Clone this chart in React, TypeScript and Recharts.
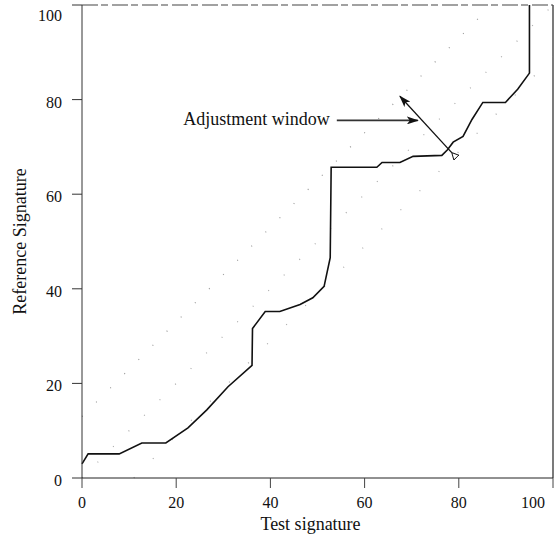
import { LineChart, Line, XAxis, YAxis, ReferenceLine, Label } from 'recharts';

// warping path
const testSignature = [0, 1.3, 7.9, 12.7, 17.8, 22.5, 26.5, 31, 36.1, 36.2, 38.9, 42, 46.3, 49, 51.4, 52.7, 52.9, 62.6, 63.7, 67.5, 70.3, 76.4, 77.6, 78.8, 80.9, 82.8, 85.1, 89.9, 92.5, 95, 95];
const referenceSignature = [3, 5.1, 5.1, 7.4, 7.4, 10.6, 14.4, 19.3, 23.8, 31.6, 35.2, 35.2, 36.7, 38.1, 40.5, 46.6, 65.7, 65.7, 66.7, 66.7, 68, 68.2, 69.4, 71, 72.2, 75.8, 79.4, 79.4, 82.2, 85.6, 100];

const axisTicks = [0, 20, 40, 60, 80, 100];

// dotted window bounds (offset from the diagonal)
const upperOffset = 13;
const lowerOffset = -11;

// annotation arrows
const windowArrow = [{ x: 67.5, y: 80.7 }, { x: 78.5, y: 68.8 }];
const labelArrow = [{ x: 54.1, y: 75.6 }, { x: 71.3, y: 75.6 }];
const annotation = 'Adjustment window';

const data = testSignature.map((x, i) => ({ x, y: referenceSignature[i] }));

const FONT = '"Liberation Serif", "Times New Roman", serif';

const diag = (off: number) => {
  const x0 = Math.max(0, -off);
  const x1 = Math.min(100, 100 - off);
  return [{ x: x0, y: x0 + off }, { x: x1, y: x1 + off }];
};

const XTick = ({ x, y, payload }: any) => (
  <text x={x} y={y} dy={12} textAnchor={payload.value === 100 ? 'end' : 'middle'} fontFamily={FONT} fontSize={16} fill="#111">
    {payload.value}
  </text>
);

const YTick = ({ x, y, payload }: any) => (
  <text x={x} y={y} dy={payload.value === 100 ? 12 : 8} textAnchor="end" fontFamily={FONT} fontSize={16} fill="#111">
    {payload.value}
  </text>
);

export default function App() {
  return (
    <div style={{ position: 'absolute', left: 0, top: 0, background: '#fff' }}>
      <LineChart width={557} height={535} data={data} margin={{ top: 5, right: 4, left: 0, bottom: 0 }}>
        <defs>
          <marker id="headFill" viewBox="0 0 12 8" refX="11" refY="4" markerWidth="12" markerHeight="8" markerUnits="userSpaceOnUse" orient="auto">
            <path d="M0,0 L12,4 L0,8 L3,4 z" fill="#111" />
          </marker>
          <marker id="headOpen" viewBox="0 0 8 8" refX="7" refY="4" markerWidth="8" markerHeight="8" markerUnits="userSpaceOnUse" orient="auto">
            <path d="M0,0.5 L7,4 L0,7.5 z" fill="#fff" stroke="#111" strokeWidth="1" />
          </marker>
        </defs>
        <XAxis
          dataKey="x"
          type="number"
          domain={[0, 100]}
          ticks={axisTicks}
          height={57}
          tickSize={10}
          tickMargin={8}
          tick={<XTick />}
          axisLine={{ stroke: '#222' }}
          tickLine={{ stroke: '#444' }}
        >
          <Label value="Test signature" position="insideBottom" offset={5} dx={-7} style={{ fontFamily: FONT, fontSize: 18, fill: '#111' }} />
        </XAxis>
        <YAxis
          type="number"
          domain={[0, 100]}
          ticks={axisTicks}
          width={82}
          tickSize={10}
          tickMargin={10}
          tick={<YTick />}
          axisLine={{ stroke: '#333' }}
          tickLine={{ stroke: '#333' }}
        >
          <Label
            content={({ viewBox }: any) => {
              const cy = viewBox.y + viewBox.height / 2;
              return (
                <text x={26} y={cy} transform={`rotate(-90, 26, ${cy})`} textAnchor="middle" fontFamily={FONT} fontSize={18} fill="#111">
                  Reference Signature
                </text>
              );
            }}
          />
        </YAxis>
        <ReferenceLine x={100} stroke="#222" strokeWidth={1.2} />
        <ReferenceLine y={100} stroke="#444" strokeWidth={1.2} strokeDasharray="16 3 7 4" />
        <ReferenceLine segment={diag(upperOffset)} stroke="#999" strokeWidth={1.2} strokeDasharray="1 19" />
        <ReferenceLine segment={diag(0)} stroke="#aaa" strokeWidth={1.2} strokeDasharray="1 21" />
        <ReferenceLine segment={diag(lowerOffset)} stroke="#aaa" strokeWidth={1.2} strokeDasharray="1 26" />
        <ReferenceLine
          segment={windowArrow}
          shape={(p: any) => (
            <line x1={p.x2} y1={p.y2} x2={p.x1} y2={p.y1} stroke="#111" strokeWidth={1.3} markerStart="url(#headOpen)" markerEnd="url(#headFill)" />
          )}
        />
        <ReferenceLine
          segment={labelArrow}
          shape={(p: any) => (
            <g>
              <text x={p.x1 - 7} y={p.y1 + 5} textAnchor="end" fontFamily={FONT} fontSize={18} fill="#111">
                {annotation}
              </text>
              <line x1={p.x1} y1={p.y1} x2={p.x2} y2={p.y2} stroke="#333" strokeWidth={1.6} markerEnd="url(#headFill)" />
            </g>
          )}
        />
        <Line type="linear" dataKey="y" stroke="#111" strokeWidth={1.6} dot={false} isAnimationActive={false} />
      </LineChart>
    </div>
  );
}
